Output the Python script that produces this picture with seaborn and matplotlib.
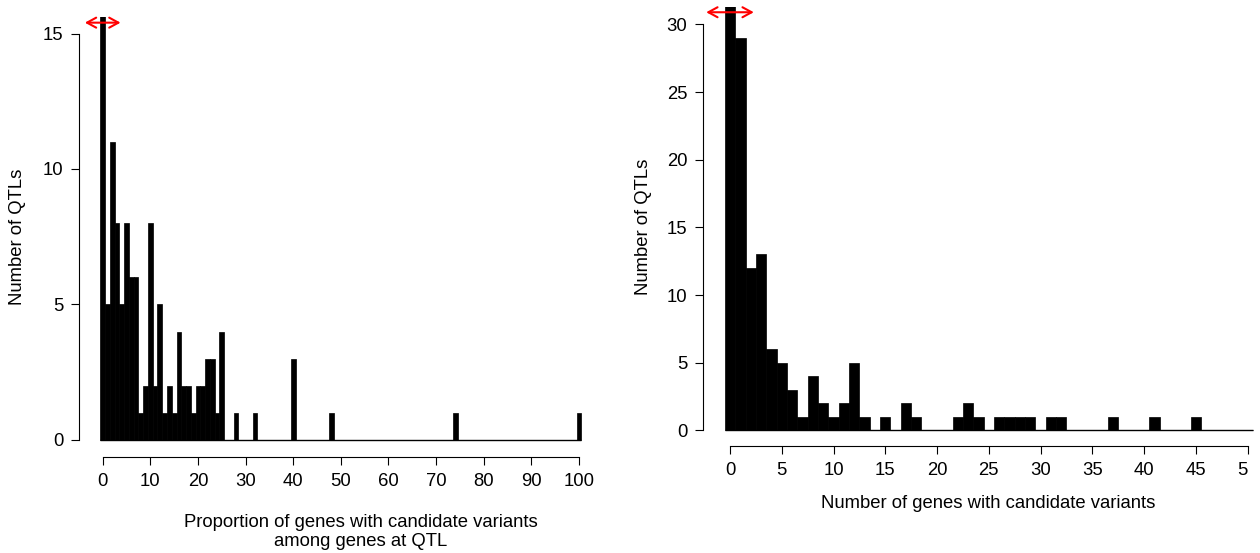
import numpy as np
import pandas as pd
import matplotlib
matplotlib.use("Agg")
import matplotlib.pyplot as plt
from matplotlib.transforms import Bbox, TransformedBbox
import seaborn as sns

# Histogram counts per integer value (QTL counts)
prop_values = [0, 1, 2, 3, 4, 5, 6, 7, 8, 9, 10, 11, 12, 13, 14, 15, 16, 17, 18,
               19, 20, 21, 22, 23, 24, 25, 28, 32, 40, 48, 74, 100]
prop_counts = [30, 5, 11, 8, 5, 8, 6, 6, 1, 2, 8, 2, 5, 1, 2, 1, 4, 2, 2,
               1, 2, 2, 3, 3, 1, 4, 1, 1, 3, 1, 1, 1]

ngene_values = [0, 1, 2, 3, 4, 5, 6, 7, 8, 9, 10, 11, 12, 13, 15, 17, 18,
                22, 23, 24, 26, 27, 28, 29, 31, 32, 37, 41, 45]
ngene_counts = [33, 29, 12, 13, 6, 5, 3, 1, 4, 2, 1, 2, 5, 1, 1, 2, 1,
                1, 2, 1, 1, 1, 1, 1, 1, 1, 1, 1, 1]

# Red double arrows near the top of each panel: (half-width, height)
prop_arrow = (3.75, 15.4)
ngene_arrow = (2.3, 30.9)

left_xticks = list(range(0, 101, 10))
left_yticks = [0, 5, 10, 15]
right_xticks = list(range(0, 51, 5))
right_yticks = [0, 5, 10, 15, 20, 25, 30]

prop_df = pd.DataFrame({"value": np.repeat(prop_values, prop_counts)})
ngene_df = pd.DataFrame({"value": np.repeat(ngene_values, ngene_counts)})

sns.set_theme(style="ticks")
plt.rcParams["font.family"] = ["Liberation Sans", "DejaVu Sans"]
plt.rcParams["text.color"] = "black"
plt.rcParams["axes.labelcolor"] = "black"

FS = 13.3
W, H = 1260, 553
fig = plt.figure(figsize=(W / 100, H / 100), dpi=100)

ax1 = fig.add_axes([79.3 / W, (H - 457.3) / H, (642.7 - 79.3) / W, (457.3 - 16.7) / H])
ax2 = fig.add_axes([703.3 / W, (H - 446) / H, (1273.8 - 703.3) / W, (446 - 6.7) / H])


def draw_panel(ax, df, binrange, xticks, yticks, xlim, ylim, arrow, xlabel, xlabel_y, ylabel_x):
    sns.histplot(data=df, x="value", discrete=True, binrange=binrange, ax=ax,
                 color="black", edgecolor="black", linewidth=0.5, alpha=1.0)
    ax.hlines(0, binrange[0] - 0.5, binrange[1] + 0.5, color="black", lw=1.0)
    ax.set_xlim(*xlim)
    ax.set_ylim(*ylim)
    ax.set_xticks(xticks)
    ax.set_yticks(yticks)
    for side in ("top", "right"):
        ax.spines[side].set_visible(False)
    ax.spines["left"].set_bounds(yticks[0], yticks[-1])
    ax.spines["bottom"].set_bounds(xticks[0], xticks[-1])
    for side in ("left", "bottom"):
        ax.spines[side].set_linewidth(0.8)
        ax.spines[side].set_color("black")
    ax.tick_params(axis="both", direction="out", length=5.8, width=0.8,
                   pad=5.8, labelsize=FS, colors="black")
    ax.set_xlabel(xlabel, fontsize=FS, linespacing=1.15, va="center", color="black")
    ax.xaxis.set_label_coords(0.5, xlabel_y)
    ax.set_ylabel("Number of QTLs", fontsize=FS, va="center", color="black")
    ax.yaxis.set_label_coords(ylabel_x, 0.5)
    half, yy = arrow
    ax.annotate("", xy=(-half, yy), xytext=(half, yy),
                arrowprops=dict(arrowstyle="<->,head_length=0.55,head_width=0.3",
                                color="red", lw=1.5, mutation_scale=12,
                                shrinkA=0, shrinkB=0))


draw_panel(ax1, prop_df, (0, 100), left_xticks, left_yticks,
           ((79.3 - 102.7) / 4.763, (642.7 - 102.7) / 4.763), (-0.64, 15.62),
           prop_arrow,
           "Proportion of genes with candidate variants\namong genes at QTL",
           (457.3 - 531.8) / 440.6, (18 - 79.3) / 563.4)

draw_panel(ax2, ngene_df, (0, 50), right_xticks, right_yticks,
           (-2.58, 52.54), (-1.16, 31.31),
           ngene_arrow,
           "Number of genes with candidate variants",
           (446 - 504) / 439.3, (643.3 - 703.3) / 570.5)

# The page ends just after the last tick mark, cutting its label short
edge = TransformedBbox(Bbox([[0, 0], [1247.5 / W, 1]]), fig.transFigure)
for lab in ax2.get_xticklabels():
    lab.set_clip_box(edge)
    lab.set_clip_on(True)

fig.savefig("out.png", dpi=100)
